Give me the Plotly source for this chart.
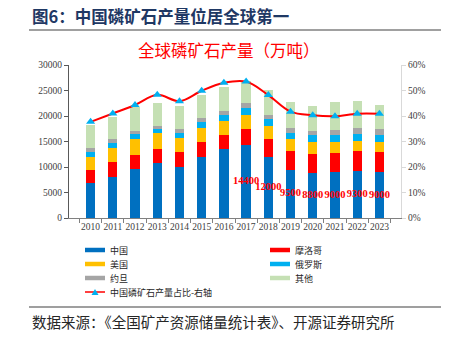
import plotly.graph_objects as go

years = ["2010", "2011", "2012", "2013", "2014", "2015", "2016",
         "2017", "2018", "2019", "2020", "2021", "2022", "2023"]
china = [6800, 8100, 9550, 10800, 10000, 12000, 13450, 14400, 12000, 9500, 8800, 9000, 9300, 9000]
morocco = [2600, 2800, 2800, 2650, 3000, 2950, 2750, 3050, 3500, 3600, 3700, 3750, 3900, 3950]
usa = [2600, 2900, 3050, 3250, 2600, 2750, 2800, 2750, 2600, 2300, 2400, 2200, 1950, 2000]
russia = [1000, 1000, 1050, 800, 1050, 1200, 1200, 1400, 1300, 1300, 1400, 1350, 1400, 1350]
jordan = [650, 700, 650, 550, 750, 800, 800, 900, 850, 900, 800, 950, 1100, 1150]
others = [4550, 4400, 4600, 4550, 4550, 4500, 4600, 4400, 4850, 5150, 4850, 5450, 5300, 4700]
china_share = [0.377, 0.41, 0.443, 0.483, 0.458, 0.499, 0.53, 0.535, 0.482, 0.417, 0.403, 0.399, 0.409, 0.409]
china_labels = ["", "", "", "", "", "", "", "14400", "12000", "9500", "8800", "9000", "9300", "9000"]

series = [
    ("中国", china, "#0070C0"),
    ("摩洛哥", morocco, "#FF0000"),
    ("美国", usa, "#FFC000"),
    ("俄罗斯", russia, "#00B0F0"),
    ("约旦", jordan, "#A5A5A5"),
    ("其他", others, "#C5E0B4"),
]
line_name = "中国磷矿石产量占比-右轴"

W, H = 454, 340
ML, MR, MT, MB = 69, 53, 65, 122
PW = W - ML - MR
PH = H - MT - MB


def px(x):
    return (x - ML) / PW


def py(y):
    return (H - MB - y) / PH


fig = go.Figure()
for name, vals, col in series:
    fig.add_trace(go.Bar(x=years, y=vals, name=name, marker=dict(color=col, line=dict(width=0)),
                         showlegend=False))

fig.add_trace(go.Scatter(
    x=years, y=china_share, name=line_name, yaxis="y2", mode="lines+markers",
    line=dict(color="#FF0000", width=2, shape="spline", smoothing=1),
    marker=dict(symbol="triangle-up", color="#00B0F0", size=8),
    showlegend=False))

fig.add_trace(go.Scatter(
    x=years, y=[v / 2 for v in china], text=china_labels, mode="text",
    textposition="middle center", cliponaxis=False,
    textfont=dict(family="Liberation Serif", size=10.5, color="#FF0000", weight="bold"),
    showlegend=False, hoverinfo="skip"))

tickfont = dict(family="Liberation Serif", size=9.5, color="#404040")

fig.update_layout(
    width=W, height=H, margin=dict(l=ML, r=MR, t=MT, b=MB),
    paper_bgcolor="white", plot_bgcolor="white",
    barmode="stack", bargap=0.58,
    xaxis=dict(type="category", showgrid=False, showline=True, linecolor="#808080", linewidth=1,
               ticks="outside", tickson="boundaries", ticklen=4, tickcolor="#808080",
               tickfont=tickfont, tickangle=0),
    yaxis=dict(range=[0, 30000], dtick=5000, tickformat="d", showgrid=False, showline=True,
               linecolor="#595959", linewidth=1, ticks="outside", ticklen=4, tickcolor="#595959",
               tickfont=tickfont, zeroline=False),
    yaxis2=dict(range=[0, 0.6], dtick=0.1, tickformat=".0%", overlaying="y", side="right",
                showgrid=False, showline=True, linecolor="#D9D9D9", linewidth=1, ticks="outside",
                ticklen=4, tickcolor="#D9D9D9", tickfont=tickfont, zeroline=False),
    showlegend=False,
)

shapes = []
annotations = []

# title and separators
annotations.append(dict(text="<b>图6：中国磷矿石产量位居全球第一</b>", x=px(30), y=py(16),
                        xref="paper", yref="paper", xanchor="left", yanchor="middle", showarrow=False,
                        font=dict(family="Noto Sans CJK SC", size=16.5, color="#1F3864")))
shapes.append(dict(type="line", xref="paper", yref="paper", x0=px(29), x1=px(441), y0=py(30), y1=py(30),
                   line=dict(color="#808080", width=1.5)))
annotations.append(dict(text="全球磷矿石产量（万吨）", x=px(229), y=py(50),
                        xref="paper", yref="paper", xanchor="center", yanchor="middle", showarrow=False,
                        font=dict(family="Noto Sans CJK SC", size=16.5, color="#FF0000")))

# legend (manual)
leg_pos = [(85, 250), (270, 250), (85, 264), (270, 264), (85, 278), (270, 278)]
for (name, vals, col), (lx, ly) in zip(series, leg_pos):
    shapes.append(dict(type="line", xref="paper", yref="paper", x0=px(lx), x1=px(lx + 20),
                       y0=py(ly), y1=py(ly), line=dict(color=col, width=4.5)))
    annotations.append(dict(text=name, x=px(lx + 23), y=py(ly), xref="paper", yref="paper",
                            xanchor="left", yanchor="middle", showarrow=False,
                            font=dict(family="Noto Sans CJK SC", size=9, color="#262626")))
shapes.append(dict(type="line", xref="paper", yref="paper", x0=px(85), x1=px(105),
                   y0=py(292), y1=py(292), line=dict(color="#FF0000", width=1.5)))
shapes.append(dict(type="path", xref="paper", yref="paper",
                   path="M {} {} L {} {} L {} {} Z".format(px(91.5), py(295), px(98.5), py(295), px(95), py(289)),
                   fillcolor="#00B0F0", line=dict(width=0)))
annotations.append(dict(text=line_name, x=px(108), y=py(292), xref="paper", yref="paper",
                        xanchor="left", yanchor="middle", showarrow=False,
                        font=dict(family="Noto Sans CJK SC", size=9, color="#262626")))

# footer
shapes.append(dict(type="line", xref="paper", yref="paper", x0=px(29), x1=px(441), y0=py(307), y1=py(307),
                   line=dict(color="#404040", width=1.2)))
annotations.append(dict(text="数据来源：《全国矿产资源储量统计表》、开源证券研究所", x=px(30), y=py(321),
                        xref="paper", yref="paper", xanchor="left", yanchor="middle", showarrow=False,
                        font=dict(family="Noto Sans CJK SC", size=14.5, color="#262626")))

fig.update_layout(shapes=shapes, annotations=annotations)
fig.write_html("out.html")
